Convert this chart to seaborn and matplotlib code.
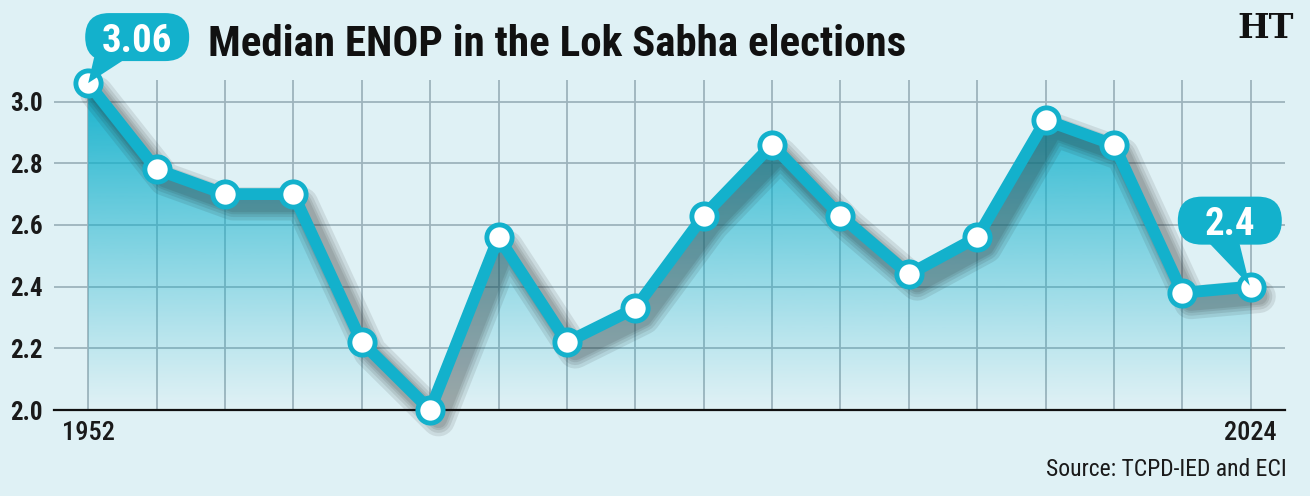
import numpy as np
import pandas as pd
import seaborn as sns
import matplotlib.pyplot as plt
from matplotlib import patheffects as pe
from matplotlib import font_manager
from matplotlib.patches import FancyBboxPatch, Polygon
from matplotlib.transforms import ScaledTranslation

# Lok Sabha election years and median effective number of parties
years = [1952, 1957, 1962, 1967, 1971, 1977, 1980, 1984, 1989,
         1991, 1996, 1998, 1999, 2004, 2009, 2014, 2019, 2024]
enop = [3.06, 2.78, 2.70, 2.70, 2.22, 2.00, 2.56, 2.22, 2.33,
        2.63, 2.86, 2.63, 2.44, 2.56, 2.94, 2.86, 2.38, 2.40]
y_ticks = [2.0, 2.2, 2.4, 2.6, 2.8, 3.0]
callout_idx = [0, 17]
callout_txt = ['3.06', '2.4']

bg = '#dff1f5'
teal = '#13b1cc'
grid_col = '#9db3bc'

# pick a narrow font if there is one
installed = {f.name for f in font_manager.fontManager.ttflist}
narrow = [n for n in ['Roboto Condensed', 'Liberation Sans Narrow', 'Open Sans Condensed',
                      'Roboto', 'Liberation Sans'] if n in installed][0]

df = pd.DataFrame({'pos': range(len(years)), 'year': years, 'enop': enop})

sns.set_style('white')
plt.rcParams['font.family'] = [narrow, 'DejaVu Sans']

fig = plt.figure(figsize=(13.1, 4.96), dpi=100, facecolor=bg)
ax = fig.add_axes([54 / 1310, 1 - 410 / 496, (1285 - 54) / 1310, (410 - 80) / 496])
ax.set_facecolor(bg)

# gradient area under the line
poly = ax.fill_between(df['pos'], df['enop'], 2.0, facecolor='none', edgecolor='none')
grad = np.zeros((256, 1, 4))
grad[:, 0, :3] = np.array([0x13, 0xb1, 0xcc]) / 255
grad[:, 0, 3] = np.linspace(0, 1, 256) ** 1.1
im = ax.imshow(grad, extent=[0, 17, 2.0, 3.07], aspect='auto', origin='lower', zorder=1)
im.set_clip_path(poly.get_paths()[0], transform=ax.transData)

# soft drop shadow under the line
shadow = [pe.SimpleLineShadow(offset=(6, -7), shadow_color='#222222', alpha=0.1, linewidth=w)
          for w in (24, 19, 15, 12)] + [pe.Normal()]
sns.lineplot(data=df, x='pos', y='enop', color=teal, linewidth=8.5, ax=ax, zorder=3)
line = ax.lines[-1]
line.set_path_effects(shadow)
line.set_clip_on(False)
line.set_solid_joinstyle('round')

sns.scatterplot(data=df, x='pos', y='enop', s=330, color='white', edgecolor=teal,
                linewidth=3.5, ax=ax, zorder=4, clip_on=False)

# callout pills, sizes in inches relative to the point
box_w, box_h = 1.04, 0.48
box_ctr = [(0.49, 0.46), (-0.21, 0.66)]
tails = [[(0.06, 0.26), (0.40, 0.26), (0.0, 0.0)],
         [(-0.44, 0.46), (-0.12, 0.46), (-0.01, 0.01)]]
for i, txt, (cx, cy), tail in zip(callout_idx, callout_txt, box_ctr, tails):
    tr = fig.dpi_scale_trans + ScaledTranslation(i, enop[i], ax.transData)
    ax.add_patch(FancyBboxPatch((cx - box_w / 2, cy - box_h / 2), box_w, box_h,
                                boxstyle=f'round,pad=0,rounding_size={box_h / 2}',
                                fc=teal, ec='none', transform=tr, zorder=6, clip_on=False))
    ax.add_patch(Polygon(tail, closed=True, fc=teal, ec='none', transform=tr,
                         zorder=6, clip_on=False))
    ax.text(cx, cy, txt, transform=tr, ha='center', va='center_baseline', fontsize=28,
            fontweight='bold', color='white', zorder=7)

ax.set_xlim(-0.5, 17.5)
ax.set_ylim(2.0, 3.07)
ax.set_yticks(y_ticks)
ax.set_yticklabels([f'{t:.1f}' for t in y_ticks], fontsize=18, fontweight='bold')
ax.set_xticks(range(len(years)), minor=True)
ax.set_xticks([0, len(years) - 1])
ax.set_xticklabels([str(years[0]), str(years[-1])], fontsize=19, fontweight='medium')
ax.tick_params(axis='both', which='both', length=0, pad=8, colors='#1a1a1a')
ax.grid(axis='x', which='both', color=grid_col, linewidth=1.3)
ax.grid(axis='y', which='major', color=grid_col, linewidth=1.3)
ax.set_axisbelow(True)
ax.set(xlabel='', ylabel='')
for s in ['top', 'right', 'left']:
    ax.spines[s].set_visible(False)
ax.spines['bottom'].set_color('#111111')
ax.spines['bottom'].set_linewidth(1.6)
ax.spines['bottom'].set_zorder(2)

fig.text(208 / 1310, 1 - 45 / 496, 'Median ENOP in the Lok Sabha elections',
         fontsize=31, fontweight='bold', ha='left', va='center', color='#111111')
fig.text(1266 / 1310, 1 - 28 / 496, 'HT', family='DejaVu Serif', fontweight='bold',
         fontsize=24, ha='center', va='center', color='#111111')
fig.text(1287 / 1310, 1 - 470 / 496, 'Source: TCPD-IED and ECI', fontsize=17,
         ha='right', va='center', color='#1a1a1a')

fig.savefig('out.png', dpi=100, facecolor=bg)
